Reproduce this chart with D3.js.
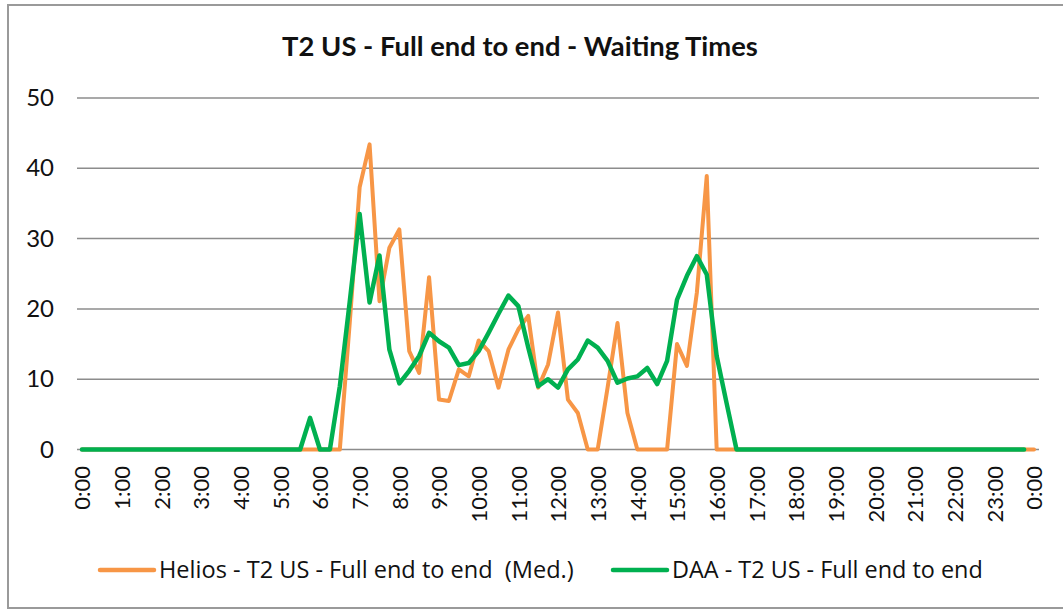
<!DOCTYPE html>
<html>
<head>
<meta charset="utf-8">
<script src="https://cdn.jsdelivr.net/npm/d3@7"></script>
<style>
  body { margin: 0; background: #fff; }
  svg { display: block; font-family: Lato, "Open Sans", sans-serif; }
</style>
</head>
<body>
<div id="chart"></div>
<script>
// quarter-hour values, 0:00 onwards
const heliosValues = [
  0, 0, 0, 0, 0, 0, 0, 0,            // 0:00 - 1:45
  0, 0, 0, 0, 0, 0, 0, 0,            // 2:00 - 3:45
  0, 0, 0, 0, 0, 0, 0, 0,            // 4:00 - 5:45
  0, 0, 0, 18, 37.3, 43.4, 21.1, 28.7,          // 6:00 - 7:45
  31.3, 14.0, 10.9, 24.5, 7.1, 6.9, 11.4, 10.4, // 8:00 - 9:45
  15.5, 14.0, 8.8, 14.2, 17.1, 19.0, 8.8, 12.1, // 10:00 - 11:45
  19.5, 7.1, 5.2, 0, 0, 8.8, 18.0, 5.2,         // 12:00 - 13:45
  0, 0, 0, 0, 15.0, 11.9, 22.3, 38.9,           // 14:00 - 15:45
  0, 0, 0, 0, 0, 0, 0, 0,            // 16:00 - 17:45
  0, 0, 0, 0, 0, 0, 0, 0,            // 18:00 - 19:45
  0, 0, 0, 0, 0, 0, 0, 0,            // 20:00 - 21:45
  0, 0, 0, 0, 0, 0, 0, 0,            // 22:00 - 23:45
  0                                  // 0:00
];
const daaValues = [
  0, 0, 0, 0, 0, 0, 0, 0,            // 0:00 - 1:45
  0, 0, 0, 0, 0, 0, 0, 0,            // 2:00 - 3:45
  0, 0, 0, 0, 0, 0, 0, 4.5,          // 4:00 - 5:45
  0, 0, 9.0, 21, 33.5, 20.9, 27.6, 14.2,        // 6:00 - 7:45
  9.4, 11.2, 13.3, 16.6, 15.4, 14.5, 12.0, 12.3, // 8:00 - 9:45
  14.0, 16.6, 19.3, 21.9, 20.4, 14.5, 9.0, 10.0, // 10:00 - 11:45
  8.8, 11.4, 12.8, 15.5, 14.5, 12.6, 9.5, 10.1, // 12:00 - 13:45
  10.4, 11.6, 9.3, 12.6, 21.3, 24.7, 27.5, 24.9, // 14:00 - 15:45
  13.3, 6.6, 0, 0, 0, 0, 0, 0,       // 16:00 - 17:45
  0, 0, 0, 0, 0, 0, 0, 0,            // 18:00 - 19:45
  0, 0, 0, 0, 0, 0, 0, 0,            // 20:00 - 21:45
  0, 0, 0, 0, 0, 0, 0, 0             // 22:00 - 23:45
];
const hourTicks = d3.range(0, 25);
const hourLabels = hourTicks.map(h => (h % 24) + ":00");
const yTicks = [0, 10, 20, 30, 40, 50];
const seriesNames = ["Helios - T2 US - Full end to end  (Med.)", "DAA - T2 US - Full end to end"];
const seriesColors = ["#F79646", "#00B050"];

const width = 1063, height = 610;

// shrink/grow a text's font so it spans the wanted width
function fitWidth(sel, target) {
  sel.each(function() {
    const t = d3.select(this);
    const fs = parseFloat(t.attr("font-size"));
    const w = this.getComputedTextLength();
    if (w > 0) t.attr("font-size", (fs * target / w).toFixed(2));
  });
}

const svg = d3.select("#chart").append("svg")
    .attr("width", width)
    .attr("height", height);

// chart frame
svg.append("rect")
    .attr("x", 8).attr("y", 5)
    .attr("width", 1070).attr("height", 603)
    .attr("fill", "#fff")
    .attr("stroke", "#9a9a9a")
    .attr("stroke-width", 2);

svg.append("text")
    .attr("x", 520).attr("y", 56)
    .attr("text-anchor", "middle")
    .attr("font-size", 25)
    .attr("font-weight", "bold")
    .attr("fill", "#111")
    .text("T2 US - Full end to end - Waiting Times")
    .call(fitWidth, 476);

// one category slot = 15 min, points sit in the middle of their slot
const x = d3.scaleLinear().domain([-0.125, 24.125]).range([77, 1039]);
const y = d3.scaleLinear().domain([0, 50]).range([449.5, 98]);

svg.append("g")
  .selectAll("line")
  .data(yTicks)
  .join("line")
    .attr("x1", x.range()[0]).attr("x2", x.range()[1])
    .attr("y1", d => y(d)).attr("y2", d => y(d))
    .attr("stroke", "#8c8c8c")
    .attr("stroke-width", 1.5);

const yAxis = svg.append("g")
    .attr("transform", "translate(54,0)")
    .call(d3.axisLeft(y).tickValues(yTicks).tickSize(0).tickPadding(0));
yAxis.select(".domain").remove();
yAxis.selectAll("text")
    .attr("font-family", "Lato, sans-serif")
    .attr("font-size", 24)
    .attr("fill", "#111");

const xAxis = svg.append("g")
    .attr("transform", "translate(0,466)")
    .call(d3.axisBottom(x).tickValues(hourTicks).tickFormat((d, i) => hourLabels[i]).tickSize(0).tickPadding(0));
xAxis.select(".domain").remove();
xAxis.selectAll("text")
    .attr("font-family", "Lato, sans-serif")
    .attr("font-size", 22)
    .attr("fill", "#111")
    .attr("transform", "rotate(-90)")
    .attr("text-anchor", "end")
    .attr("x", 0)
    .attr("y", 0)
    .attr("dy", "0.35em");

const line = d3.line()
    .x((d, i) => x(i / 4))
    .y(d => y(d));

svg.append("path")
    .datum(heliosValues)
    .attr("d", line)
    .attr("fill", "none")
    .attr("stroke", seriesColors[0])
    .attr("stroke-width", 4)
    .attr("stroke-linejoin", "round")
    .attr("stroke-linecap", "round");

svg.append("path")
    .datum(daaValues)
    .attr("d", line)
    .attr("fill", "none")
    .attr("stroke", seriesColors[1])
    .attr("stroke-width", 4.5)
    .attr("stroke-linejoin", "round")
    .attr("stroke-linecap", "round");

// legend
const legendX = [100, 613];
const legendW = [415, 311];
const legend = svg.append("g")
  .selectAll("g")
  .data(seriesNames)
  .join("g")
    .attr("transform", (d, i) => "translate(" + legendX[i] + ",570)");
legend.append("line")
    .attr("x1", 0).attr("x2", 54)
    .attr("stroke", (d, i) => seriesColors[i])
    .attr("stroke-width", 4.5)
    .attr("stroke-linecap", "round");
legend.append("text")
    .attr("x", 59)
    .attr("dy", "0.35em")
    .attr("font-family", "'Open Sans', sans-serif")
    .attr("font-size", 21)
    .attr("fill", "#111")
    .style("white-space", "pre")
    .text(d => d)
    .each(function(d, i) { fitWidth(d3.select(this), legendW[i]); });
</script>
</body>
</html>
